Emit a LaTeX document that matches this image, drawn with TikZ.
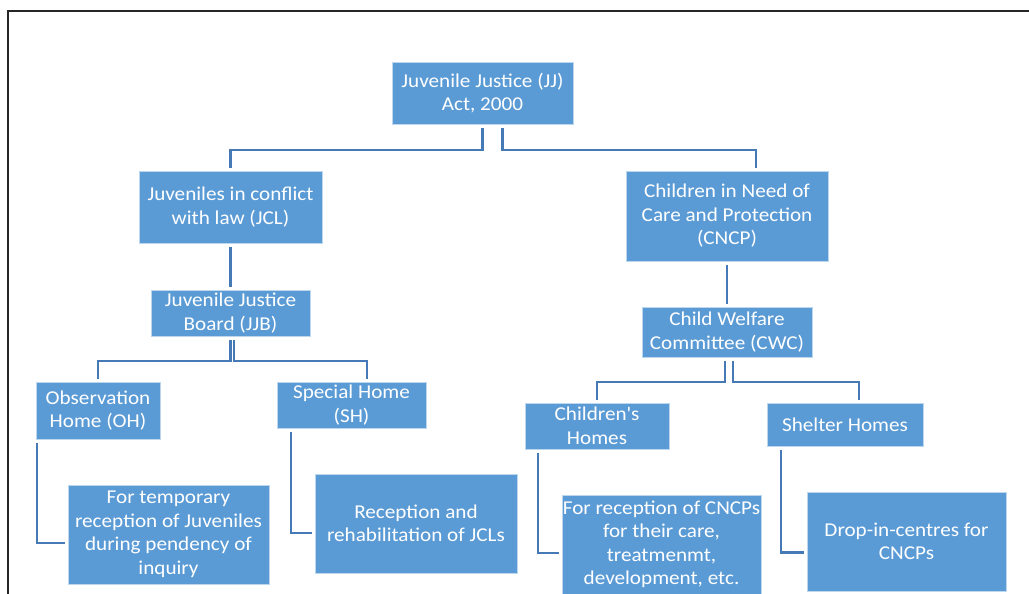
\documentclass[tikz,border=0pt]{standalone}
\usepackage{fontspec}
\setmainfont{Carlito}[FakeStretch=1.08]
\definecolor{boxblue}{RGB}{91,155,213}
\definecolor{lineblue}{RGB}{70,122,182}
\tikzset{
  box/.style={rectangle, fill=boxblue, draw=boxblue!40!white, line width=0.6pt,
    text=white, align=center, inner sep=0pt,
    font=\fontsize{19.6}{23.5}\selectfont},
  conn/.style={draw=lineblue, line width=2.3pt, shorten <=3.5pt, shorten >=2.5pt}
}
\begin{document}
\begin{tikzpicture}[x=1pt,y=-1pt]
\clip (0,0) rectangle (1029,594);
\fill[white] (0,0) rectangle (1029,594);
\draw[line width=1.8pt, black!85] (8,600) -- (8,11) -- (1035,11);

\node[box, minimum width=181pt, minimum height=62pt] (jj) at (482.5,93) {Juvenile Justice (JJ)\\Act, 2000};
\node[box, minimum width=183pt, minimum height=72pt] (jcl) at (230.5,207) {Juveniles in conflict\\with law (JCL)};
\node[box, minimum width=202pt, minimum height=90pt] (cncp) at (727,216) {Children in Need of\\Care and Protection\\(CNCP)};
\node[box, minimum width=159pt, minimum height=46pt] (jjb) at (230.5,313) {Juvenile Justice\\Board (JJB)};
\node[box, minimum width=170pt, minimum height=50pt] (cwc) at (727,332) {Child Welfare\\Committee (CWC)};
\node[box, minimum width=124pt, minimum height=57pt] (oh) at (98,410.5) {Observation\\Home (OH)};
\node[box, minimum width=149pt, minimum height=46pt] (sh) at (351.5,405) {Special Home\\(SH)};
\node[box, minimum width=144pt, minimum height=46pt] (ch) at (597,426) {Children\textquotesingle s\\Homes};
\node[box, minimum width=156pt, minimum height=43pt] (shl) at (845,424.5) {Shelter Homes};
\node[box, minimum width=201pt, minimum height=99pt] (temp) at (168.5,534.5) {For temporary\\reception of Juveniles\\during pendency of\\inquiry};
\node[box, minimum width=202pt, minimum height=99pt] (rec) at (416,523.5) {Reception and\\rehabilitation of JCLs};
\node[box, minimum width=199pt, minimum height=99pt] (forrec) at (661.5,544.5) {For reception of CNCPs\\for their care,\\treatmenmt,\\development, etc.};
\node[box, minimum width=199pt, minimum height=99pt] (drop) at (906.5,541.5) {Drop-in-centres for\\CNCPs};

% top level
\draw[conn] (jj.south) -- ++(0,26) -| (jcl.north);
\draw[conn] ([xshift=20pt]jj.south) -- ++(0,26) -| ([xshift=29pt]cncp.north);
% second level
\draw[conn] (jcl.south) -- (jjb.north);
\draw[conn] (cncp.south) -- (cwc.north);
% JJB children
\draw[conn] (jjb.south) -- ++(0,25) -| (oh.north);
\draw[conn] ([xshift=3.5pt]jjb.south) -- ++(0,25) -| ([xshift=15.5pt]sh.north);
% CWC children
\draw[conn] ([xshift=-2pt]cwc.south) -- ++(0,25) -| (ch.north);
\draw[conn] ([xshift=6pt]cwc.south) -- ++(0,25) -| ([xshift=14pt]shl.north);
% descriptions
\draw[conn] ([xshift=1.5pt]oh.south west) |- ([yshift=-8.5pt]temp.west);
\draw[conn] ([xshift=14pt]sh.south west) |- ([yshift=-9.5pt]rec.west);
\draw[conn] ([xshift=13pt]ch.south west) |- ([yshift=-8.5pt]forrec.west);
\draw[conn] ([xshift=14pt]shl.south west) |- ([yshift=-11pt]drop.west);
\end{tikzpicture}
\end{document}
